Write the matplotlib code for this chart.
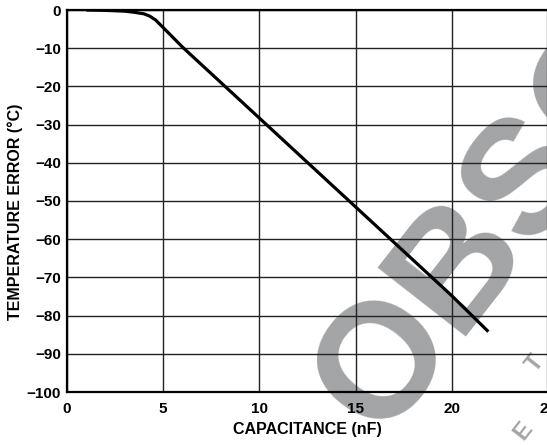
import matplotlib
matplotlib.use("Agg")
import matplotlib.pyplot as plt

plt.rcParams['font.family'] = ['Liberation Sans', 'DejaVu Sans']
plt.rcParams['font.weight'] = 'bold'

# capacitance (nF) vs temperature error (deg C)
cap = [1, 2, 3, 3.5, 4, 4.3, 4.6, 5, 6, 8, 10, 12, 14, 16, 18, 20, 21.9]
err = [0, -0.1, -0.3, -0.6, -1.0, -1.6, -2.6, -4.6, -9.7, -19.0, -28.3, -37.6, -46.9, -56.2, -65.5, -74.8, -84.2]

xticks = [0, 5, 10, 15, 20, 25]
yticks = list(range(-100, 1, 10))

fig = plt.figure(figsize=(5.47, 4.45), dpi=100)
ax = fig.add_axes([67/547, 53/445, 481/547, 382/445])

# OBSOLETE stamp behind the grid
grey = '#a3a4a6'
ax.text(621/547, 1 - 60/445, "OBSOLETE", transform=fig.transFigure,
        rotation=52, rotation_mode='anchor', ha='center', va='center',
        fontsize=117, fontweight='bold', color=grey, zorder=0.5, clip_on=False)
for (px, py, ch) in [(535, 363, "T"), (523, 431, "E")]:
    ax.text(px/547, 1 - py/445, ch, transform=fig.transFigure,
            rotation=52, rotation_mode='anchor', ha='center', va='center',
            fontsize=17, fontweight='bold', color=grey, zorder=0.5, clip_on=False)

ax.plot(cap, err, color='black', lw=2.3, zorder=3, solid_capstyle='butt')

ax.set_xlim(0, 25)
ax.set_ylim(-100, 0)
ax.set_xticks(xticks)
ax.set_yticks(yticks)
ax.grid(True, color='#222222', lw=1.0)
ax.tick_params(length=0, labelsize=11)
ax.tick_params(axis='x', pad=7)
ax.tick_params(axis='y', pad=4.5)
for s in ax.spines.values():
    s.set_linewidth(1.6)

ax.set_xlabel("CAPACITANCE (nF)", fontsize=11.5, fontweight='bold')
ax.set_ylabel("TEMPERATURE ERROR (°C)", fontsize=11.5, fontweight='bold')
ax.xaxis.set_label_coords(0.5, -0.078)
ax.yaxis.set_label_coords(-0.091, 0.472)

fig.savefig("out.png", dpi=100)
